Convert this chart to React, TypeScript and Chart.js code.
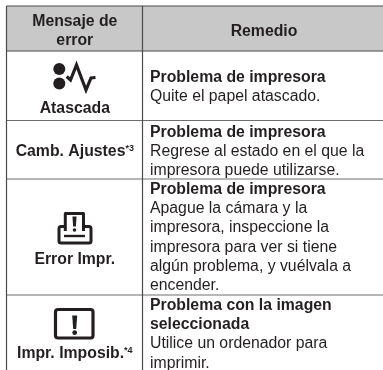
import React, { useEffect, useRef } from "react";
import { Chart, registerables } from "chart.js";

Chart.register(...registerables);

const headers = [["Mensaje de", "error"], ["Remedio"]];
const problemTitle = "Problema de impresora";
const errorLabels = ["Atascada", "Camb. Ajustes", "Error Impr.", "Impr. Imposib."];
const errorNotes = ["", "*3", "", "*4"];
const remedyRows = [
  [[problemTitle], ["Quite el papel atascado."]],
  [[problemTitle], ["Regrese al estado en el que la", "impresora puede utilizarse."]],
  [[problemTitle], ["Apague la cámara y la", "impresora, inspeccione la", "impresora para ver si tiene", "algún problema, y vuélvala a", "encender."]],
  [["Problema con la imagen", "seleccionada"], ["Utilice un ordenador para", "imprimir."]],
];

// Table geometry, in the chart's axis units
const xLeft = 6.5, xSplit = 142.5, xRight = 383, xLeftCentre = 74.8, xRightCentre = 264, xRemedy = 150;
const yTop = 6, yHeaderBottom = 51, yMax = 370;
const rowLines = [120.5, 179, 295];
const rowFirstBaseline = [82, 137, 194, 310];
const labelBaselines = [113, 156, 264, 358];
const lineStep = 19.2;

const FONT = '"Liberation Sans", Arial, sans-serif';
const INK = "#231f20";
const size = 15.8;

const seg = (x1: number, y1: number, x2: number, y2: number, color: string, w: number) => ({
  type: "line" as const,
  data: [{ x: x1, y: y1 }, { x: x2, y: y2 }],
  borderColor: color,
  borderWidth: w,
  pointRadius: 0,
  fill: false,
});

const tablePlugin = {
  id: "table",
  beforeDatasetsDraw(chart: any) {
    const { ctx, scales } = chart;
    const X = (v: number) => scales.x.getPixelForValue(v);
    const Y = (v: number) => scales.y.getPixelForValue(v);
    ctx.save();
    ctx.fillStyle = "#c8c8c8";
    ctx.fillRect(X(xLeft), Y(yTop), X(xRight) - X(xLeft), Y(yHeaderBottom) - Y(yTop));
    ctx.restore();
  },
  afterDatasetsDraw(chart: any) {
    const { ctx, scales } = chart;
    const X = (v: number) => scales.x.getPixelForValue(v);
    const Y = (v: number) => scales.y.getPixelForValue(v);
    ctx.save();
    ctx.fillStyle = INK;
    ctx.strokeStyle = INK;
    ctx.textBaseline = "alphabetic";

    const bold = `bold ${size}px ${FONT}`;
    const normal = `${size}px ${FONT}`;

    // Header
    ctx.font = bold;
    ctx.textAlign = "center";
    headers[0].forEach((t, i) => ctx.fillText(t, X(xLeftCentre), Y(26 + i * lineStep)));
    ctx.fillText(headers[1][0], X(xRightCentre), Y(36));

    // Left column
    errorLabels.forEach((label, i) => {
      ctx.font = bold;
      const note = errorNotes[i];
      if (!note) {
        ctx.textAlign = "center";
        ctx.fillText(label, X(xLeftCentre), Y(labelBaselines[i]));
        return;
      }
      const w = ctx.measureText(label).width;
      ctx.font = `bold 9px ${FONT}`;
      const nw = ctx.measureText(note).width;
      const start = xLeftCentre - (w + nw) / 2;
      ctx.textAlign = "left";
      ctx.fillText(note, X(start + w), Y(labelBaselines[i] - 5));
      ctx.font = bold;
      ctx.fillText(label, X(start), Y(labelBaselines[i]));
    });

    // Right column
    ctx.textAlign = "left";
    remedyRows.forEach((row, i) => {
      let y = rowFirstBaseline[i];
      ctx.font = bold;
      row[0].forEach((t) => {
        ctx.fillText(t, X(xRemedy), Y(y));
        y += lineStep;
      });
      ctx.font = normal;
      row[1].forEach((t) => {
        ctx.fillText(t, X(xRemedy), Y(y));
        y += lineStep;
      });
    });

    // Icon 1: jam
    const circle = (cx: number, cy: number, r: number) => {
      ctx.beginPath();
      ctx.arc(X(cx), Y(cy), r, 0, Math.PI * 2);
      ctx.fill();
    };
    circle(59.3, 69, 6);
    circle(59.3, 83.5, 6);
    ctx.lineJoin = "miter";
    ctx.lineCap = "butt";
    ctx.lineWidth = 3.2;
    ctx.beginPath();
    ctx.moveTo(X(66.7), Y(76.5));
    ctx.lineTo(X(70.5), Y(80));
    ctx.lineTo(X(76.5), Y(65));
    ctx.lineTo(X(86), Y(90));
    ctx.lineTo(X(91), Y(78));
    ctx.lineTo(X(95.5), Y(77.5));
    ctx.stroke();

    // Exclamation mark
    const bang = (cx: number, top: number, bottom: number, dotY: number, wTop: number, wBottom: number, r: number) => {
      ctx.beginPath();
      ctx.moveTo(X(cx - wTop / 2), Y(top));
      ctx.lineTo(X(cx + wTop / 2), Y(top));
      ctx.lineTo(X(cx + wBottom / 2), Y(bottom));
      ctx.lineTo(X(cx - wBottom / 2), Y(bottom));
      ctx.closePath();
      ctx.fill();
      circle(cx, dotY, r);
    };

    // Icon 2: printer
    ctx.lineWidth = 3;
    ctx.lineJoin = "round";
    ctx.beginPath();
    ctx.moveTo(X(65.3), Y(231));
    ctx.lineTo(X(65.3), Y(213.5));
    ctx.lineTo(X(83.5), Y(213.5));
    ctx.lineTo(X(83.5), Y(231));
    ctx.stroke();
    ctx.beginPath();
    ctx.moveTo(X(65.3), Y(226.5));
    ctx.lineTo(X(61), Y(226.5));
    ctx.quadraticCurveTo(X(59), Y(226.5), X(59), Y(229));
    ctx.lineTo(X(59), Y(241));
    ctx.quadraticCurveTo(X(59), Y(243), X(61), Y(243));
    ctx.lineTo(X(89), Y(243));
    ctx.quadraticCurveTo(X(91), Y(243), X(91), Y(241));
    ctx.lineTo(X(91), Y(229));
    ctx.quadraticCurveTo(X(91), Y(226.5), X(89), Y(226.5));
    ctx.lineTo(X(83.5), Y(226.5));
    ctx.stroke();
    ctx.lineWidth = 2.4;
    ctx.beginPath();
    ctx.moveTo(X(64), Y(236));
    ctx.lineTo(X(85), Y(236));
    ctx.stroke();
    bang(74.5, 216.5, 226.5, 230, 4, 2.8, 1.8);

    // Icon 3: warning frame
    ctx.lineWidth = 3.2;
    ctx.beginPath();
    ctx.roundRect(X(55.5), Y(309.5), X(93) - X(55.5), Y(338) - Y(309.5), 2.5);
    ctx.stroke();
    bang(74.7, 315.5, 329, 332.7, 5, 3, 2.4);

    ctx.restore();
  },
};

export default function App() {
  const ref = useRef<HTMLCanvasElement>(null);
  useEffect(() => {
    document.body.style.margin = "0";
    document.body.style.background = "#fff";
    const chart = new Chart(ref.current!, {
      type: "scatter",
      data: {
        datasets: [
          seg(xLeft, yTop, xRight, yTop, "#4a4a4a", 1.2),
          seg(xLeft, yHeaderBottom, xRight, yHeaderBottom, "#4a4a4a", 1.2),
          seg(xLeft, yTop, xLeft, yMax, "#4a4a4a", 1.2),
          seg(xSplit, yTop, xSplit, yMax, "#4a4a4a", 1.2),
          ...rowLines.map((y) => seg(xLeft, y, xRight, y, "#6e6e6e", 1.2)),
        ] as any,
      },
      options: {
        animation: false,
        responsive: false,
        layout: { padding: 0 },
        scales: {
          x: { type: "linear", min: 0, max: 383, display: false },
          y: { type: "linear", min: 0, max: 370, reverse: true, display: false },
        },
        plugins: { legend: { display: false }, tooltip: { enabled: false }, title: { display: false } },
      },
      plugins: [tablePlugin],
    });
    return () => chart.destroy();
  }, []);
  return <canvas ref={ref} width={383} height={370} style={{ display: "block" }} />;
}
